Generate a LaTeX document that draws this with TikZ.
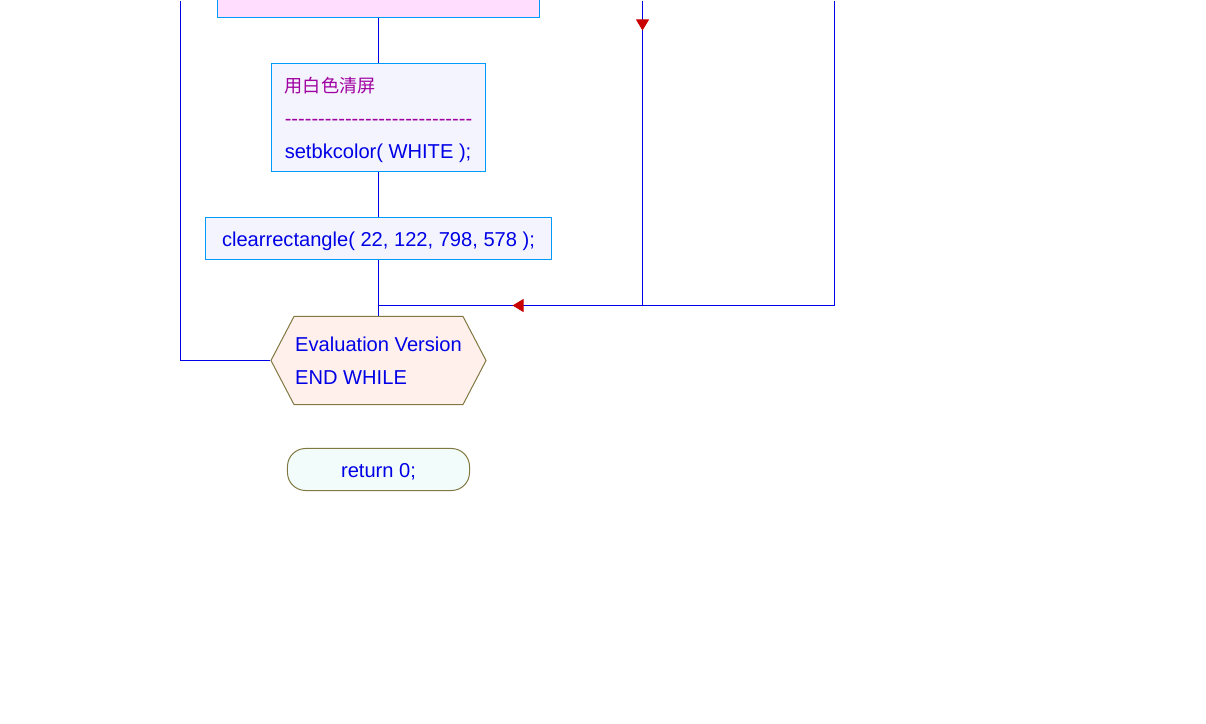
\documentclass[tikz,border=0pt]{standalone}
\usepackage{fontspec}
\setmainfont{Liberation Sans}
\newfontfamily\cjk{Noto Sans CJK SC}
\usepackage{tikz}
\usetikzlibrary{shapes.symbols}
\usetikzlibrary{arrows.meta}
\usepackage{xcolor}
\definecolor{flowline}{RGB}{0,0,230}
\definecolor{boxedge}{RGB}{0,155,250}
\definecolor{codeblue}{RGB}{0,0,230}
\definecolor{notepink}{RGB}{160,0,160}
\definecolor{olive}{RGB}{128,120,64}
\definecolor{tipred}{RGB}{200,0,0}
\newcommand\dashline{\foreach \k in {1,...,28}{-}}

\begin{document}
\begin{tikzpicture}[x=0.025cm,y=-0.025cm,line width=0.025cm,
code/.style={rectangle,draw=boxedge,inner sep=0pt,text=codeblue,
  font=\fontsize{14.3}{23.4}\selectfont},
oneline/.style={text height=11.5pt,text depth=0pt},
tip/.style={draw=tipred,-{Triangle[length=0.28cm,width=0.33cm]}},
flow/.style={draw=flowline}]
%\draw[help lines] (0,0) grid[step=50] (1206,724);
\useasboundingbox (-0.5,-0.5) rectangle (1205.5,723.5);
\clip (-0.5,-0.5) rectangle (1205.5,723.5);

\node[code,fill={rgb,255:red,255;green,221;blue,255},
  minimum width=8.05cm,minimum height=1.35cm] (init) at (378,-10) {};
\node[code,fill={rgb,255:red,244;green,244;blue,255},text depth=0pt,
  minimum width=5.35cm,minimum height=2.7cm,align=left] (clear) at (378,117)
  {{\cjk\color{notepink}\fontsize{12.9}{23.4}\selectfont 用白色清屏}\\
   {\color{notepink}\dashline}\\
   setbkcolor( WHITE );};
\node[code,oneline,fill={rgb,255:red,244;green,244;blue,255},
  minimum width=8.65cm,minimum height=1.05cm] (rect) at (378,238)
  {clearrectangle( 22, 122, 798, 578 );};
\node[signal,signal to=west and east,signal pointer angle=124.8,draw=olive,
  fill={rgb,255:red,255;green,240;blue,236},inner sep=0pt,
  minimum width=5.375cm,minimum height=2.2cm,text=codeblue,align=left,
  font=\fontsize{14.3}{23.4}\selectfont] (endw) at (378,360)
  {Evaluation Version\\END WHILE};
\node[rectangle,oneline,rounded corners=0.45cm,draw=olive,
  fill={rgb,255:red,242;green,252;blue,250},inner sep=0pt,
  minimum width=4.55cm,minimum height=1.05cm,text=codeblue,
  font=\fontsize{14.3}{16}\selectfont] (ret) at (378,469) {return 0;};

\coordinate (join) at (378,305);
\coordinate (midtop) at (642,0);
\coordinate (midbot) at (642,305);
\coordinate (righttop) at (834,0);
\coordinate (rightbot) at (834,305);
\coordinate (lefttop) at (180,0);

\draw[flow] (init.south) -- (clear.north);
\draw[flow] (clear.south) -- (rect.north);
\draw[flow] (rect.south) -- (endw.north);
\draw[flow] (midtop) -- (midbot);
\draw[flow] (righttop) -- (rightbot) -- (join);
\draw[flow] (endw.west) -| (lefttop);

\draw[tip] (642,29) -- (642,30);
\draw[tip] (513,305) -- (512,305);
\end{tikzpicture}
\end{document}
